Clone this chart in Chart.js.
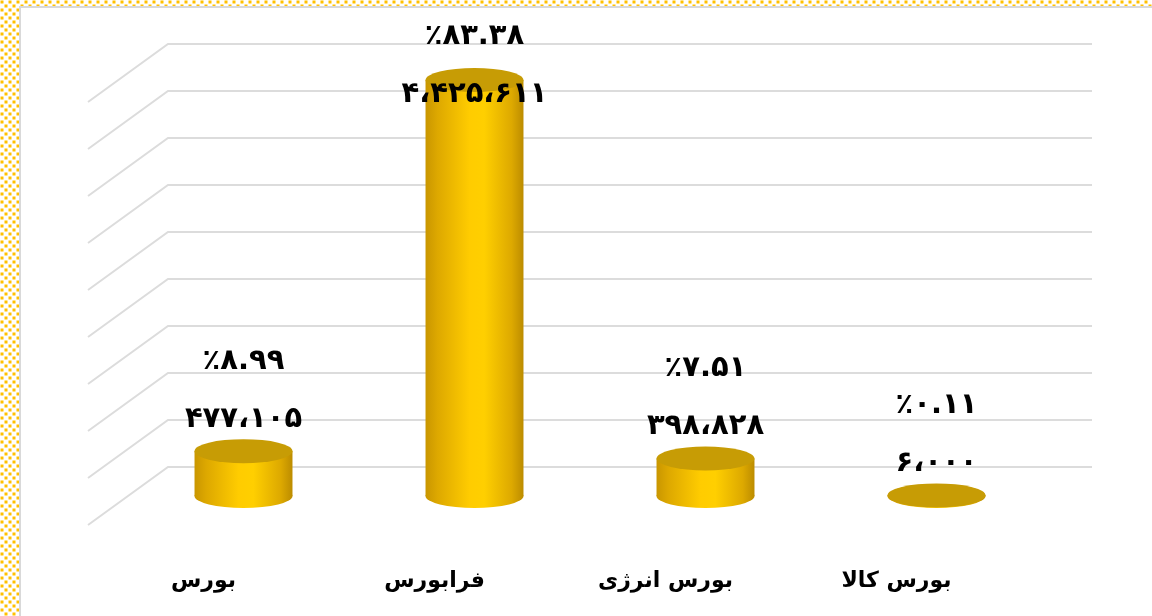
<!DOCTYPE html>
<html>
<head>
<meta charset="utf-8">
<script src="https://cdn.jsdelivr.net/npm/chart.js@4"></script>
<style>
  body { margin: 0; background: #fff; }
  #wrap {
    position: relative; width: 1152px; height: 616px; overflow: hidden;
    background-color: #fff;
    background-image: url("data:image/svg+xml,%3Csvg xmlns='http://www.w3.org/2000/svg' width='8' height='8'%3E%3Crect x='0.5' y='0.5' width='3' height='3' fill='%23FFC000'/%3E%3Crect x='4.5' y='4.5' width='3' height='3' fill='%23FFC000'/%3E%3C/svg%3E");
  }
  #inner {
    position: absolute; left: 19px; top: 6px; width: 1150px; height: 620px;
    background: #fff; border: 2px solid #d9d9d9;
  }
  #c { position: absolute; left: 0; top: 0; }
</style>
</head>
<body>
<div id="wrap">
  <div id="inner"></div>
  <canvas id="c" width="1152" height="616"></canvas>
</div>
<script>
// categories and values
var categories = ['بورس', 'فرابورس', 'بورس انرژی', 'بورس کالا'];
var values = [477105, 4425611, 398828, 6000];
var valueLabels = ['۴۷۷،۱۰۵', '۴،۴۲۵،۶۱۱', '۳۹۸،۸۲۸', '۶،۰۰۰'];
var percentLabels = ['٪۸.۹۹', '٪۸۳.۳۸', '٪۷.۵۱', '٪۰.۱۱'];

var DEPTH_X = 40, DEPTH_Y = 29;

// back wall grid with the diagonal floor/side part
var gridPlugin = {
  id: 'grid3d',
  beforeDatasetsDraw: function(chart) {
    var ctx = chart.ctx, ys = chart.scales.y, area = chart.chartArea;
    ctx.save();
    ctx.strokeStyle = '#dcdcdc';
    ctx.lineWidth = 2;
    ys.ticks.forEach(function(t) {
      var y = ys.getPixelForValue(t.value);
      ctx.beginPath();
      ctx.moveTo(area.left - DEPTH_X, y + DEPTH_Y);
      ctx.lineTo(area.left + DEPTH_X, y - DEPTH_Y);
      ctx.lineTo(area.right + DEPTH_X, y - DEPTH_Y);
      ctx.stroke();
    });
    ctx.restore();
  }
};

// cylinders on top of the library's bar elements
var cylPlugin = {
  id: 'cylinders',
  afterDatasetsDraw: function(chart) {
    var ctx = chart.ctx;
    var meta = chart.getDatasetMeta(0);
    ctx.save();
    meta.data.forEach(function(bar, i) {
      var x = bar.x, top = bar.y, base = bar.base, rx = bar.width / 2, ry = 12;
      var g = ctx.createLinearGradient(x - rx, 0, x + rx, 0);
      g.addColorStop(0, '#C99600');
      g.addColorStop(0.12, '#DDA800');
      g.addColorStop(0.45, '#FFCC00');
      g.addColorStop(0.6, '#FFCF00');
      g.addColorStop(0.88, '#DDA900');
      g.addColorStop(1, '#BC8C00');
      // bottom half ellipse + body
      ctx.fillStyle = g;
      ctx.beginPath();
      ctx.ellipse(x, base, rx, ry, 0, 0, Math.PI * 2);
      ctx.fill();
      ctx.fillRect(x - rx, top, rx * 2, base - top);
      // top
      ctx.fillStyle = '#C79C05';
      ctx.beginPath();
      ctx.ellipse(x, top, rx, ry, 0, 0, Math.PI * 2);
      ctx.fill();

      // labels
      var vy = Math.max(top - 32, 94);
      var py = vy - 58;
      ctx.fillStyle = '#000';
      ctx.font = 'bold 29px "DejaVu Sans"';
      ctx.textAlign = 'center';
      ctx.textBaseline = 'middle';
      ctx.fillText(valueLabels[i], x, vy);
      ctx.fillText(percentLabels[i], x, py);
    });
    ctx.restore();
  }
};

var ctx = document.getElementById('c');
var myChart = new Chart(ctx, {
  type: 'bar',
  data: {
    labels: categories,
    datasets: [{
      label: 'ارزش',
      data: values,
      backgroundColor: 'rgba(0,0,0,0)',
      borderWidth: 0,
      barPercentage: 0.424,
      categoryPercentage: 1
    }]
  },
  options: {
    responsive: false,
    animation: false,
    layout: { padding: { left: 128, right: 100, top: 73, bottom: 20 } },
    plugins: {
      legend: { display: false },
      tooltip: { enabled: false }
    },
    scales: {
      x: {
        grid: { display: false, drawTicks: false },
        border: { display: false },
        afterFit: function(scale) { scale.height = 100; },
        ticks: {
          color: '#000',
          padding: 72,
          labelOffset: -40,
          font: { family: 'DejaVu Sans', size: 22, weight: 'bold' }
        }
      },
      y: {
        display: false,
        min: 0,
        max: 4500000,
        ticks: { stepSize: 500000 }
      }
    }
  },
  plugins: [gridPlugin, cylPlugin]
});
</script>
</body>
</html>
